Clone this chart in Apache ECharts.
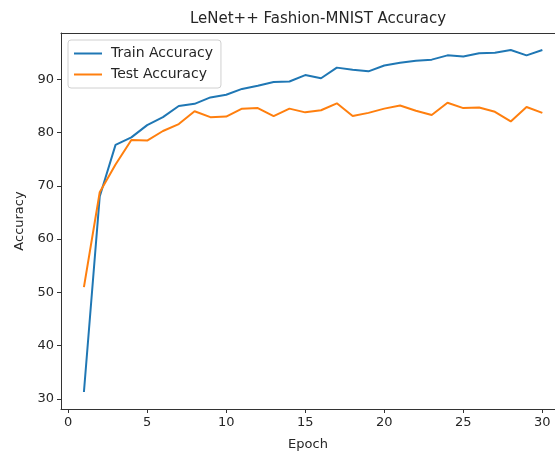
<!DOCTYPE html>
<html>
<head>
<meta charset="utf-8">
<script src="https://cdn.jsdelivr.net/npm/echarts@6/dist/echarts.min.js"></script>
<style>
  html, body { margin: 0; padding: 0; background: #fff; }
  #chart { width: 555px; height: 454px; }
</style>
</head>
<body>
<div id="chart"></div>
<script>
// data
const epochs = [1,2,3,4,5,6,7,8,9,10,11,12,13,14,15,16,17,18,19,20,21,22,23,24,25,26,27,28,29,30];
const trainAcc = [31.3,68.0,77.7,79.1,81.4,82.9,85.0,85.4,86.6,87.1,88.2,88.8,89.5,89.6,90.8,90.2,92.2,91.8,91.5,92.6,93.1,93.5,93.7,94.5,94.3,94.9,95.0,95.5,94.5,95.5];
const testAcc = [51.0,68.8,74.0,78.6,78.5,80.3,81.6,84.0,82.9,83.0,84.5,84.6,83.1,84.5,83.8,84.2,85.5,83.1,83.7,84.5,85.1,84.1,83.3,85.6,84.6,84.7,83.9,82.1,84.8,83.7];
const xTicks = [0,5,10,15,20,25,30];
const yTicks = [30,40,50,60,70,80,90];

const font = 'DejaVu Sans';
const txt = '#262626';
const frame = '#333';

let chart = echarts.init(document.getElementById('chart'), null, {renderer: 'canvas'});

// the plot runs past the right edge of the picture, so no right spine is drawn
let option = {
  animation: false,
  backgroundColor: '#fff',
  title: {
    text: 'LeNet++ Fashion-MNIST Accuracy',
    left: 313,
    top: 7,
    textAlign: 'center',
    textStyle: {fontFamily: font, fontSize: 15, fontWeight: 'normal', color: txt}
  },
  grid: {left: 61, top: 33, bottom: 45, right: 0, containLabel: false, outerBoundsMode: 'none'},
  legend: {
    orient: 'vertical',
    left: 68, top: 40,
    padding: [5, 8, 5, 6],
    itemGap: 4,
    icon: 'rect',
    itemWidth: 28, itemHeight: 2,
    backgroundColor: 'rgba(255,255,255,0.8)',
    borderColor: '#d0d0d0', borderWidth: 1, borderRadius: 3,
    textStyle: {fontFamily: font, fontSize: 14, color: txt, lineHeight: 17, padding: [0, 0, 0, 4]},
    data: ['Train Accuracy', 'Test Accuracy']
  },
  xAxis: [
    {
      type: 'value',
      min: -0.45, max: 30.8,
      name: 'Epoch', nameLocation: 'middle', nameGap: 29,
      nameTextStyle: {fontFamily: font, fontSize: 13, color: txt},
      axisLine: {show: true, onZero: false, lineStyle: {color: frame, width: 1}},
      axisTick: {show: true, length: 4, lineStyle: {color: frame}, customValues: xTicks},
      axisLabel: {fontFamily: font, fontSize: 13, color: txt, margin: 7, customValues: xTicks},
      splitLine: {show: false}
    },
    {
      type: 'value', position: 'top',
      min: -0.45, max: 30.8,
      axisLine: {show: true, onZero: false, lineStyle: {color: frame, width: 1}},
      axisTick: {show: false}, axisLabel: {show: false}, splitLine: {show: false}
    }
  ],
  yAxis: {
    type: 'value',
    min: 28.1, max: 98.7,
    name: 'Accuracy', nameLocation: 'middle', nameGap: 34,
    nameTextStyle: {fontFamily: font, fontSize: 13, color: txt},
    axisLine: {show: true, onZero: false, lineStyle: {color: frame, width: 1}},
    axisTick: {show: true, length: 4, lineStyle: {color: frame}, customValues: yTicks},
    axisLabel: {fontFamily: font, fontSize: 13, color: txt, margin: 7, customValues: yTicks},
    splitLine: {show: false}
  },
  series: [
    {
      name: 'Train Accuracy', type: 'line', symbol: 'none',
      data: epochs.map((e, i) => [e, trainAcc[i]]),
      lineStyle: {color: '#1f77b4', width: 2}, itemStyle: {color: '#1f77b4'}
    },
    {
      name: 'Test Accuracy', type: 'line', symbol: 'none',
      data: epochs.map((e, i) => [e, testAcc[i]]),
      lineStyle: {color: '#ff7f0e', width: 2}, itemStyle: {color: '#ff7f0e'}
    }
  ]
};

chart.setOption(option);
</script>
</body>
</html>
